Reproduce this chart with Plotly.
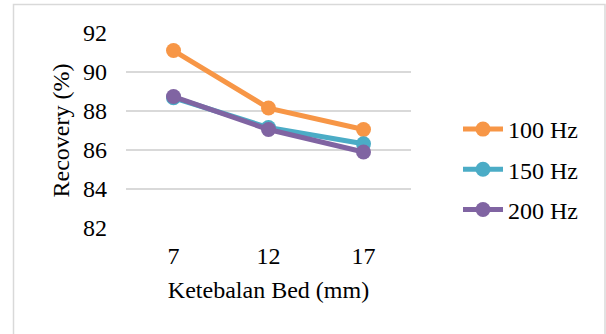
import plotly.graph_objects as go

categories = ["7", "12", "17"]
hz100 = [91.1, 88.15, 87.05]
hz150 = [88.68, 87.15, 86.32]
hz200 = [88.74, 87.05, 85.9]
series_names = ["100 Hz", "150 Hz", "200 Hz"]
colors = ["#F79646", "#4BACC6", "#8064A2"]
y_ticks = [82, 84, 86, 88, 90, 92]

W, H = 606, 334
L, R, T, B = 126, 195, 33, 106
pw, ph = W - L - R, H - T - B

fig = go.Figure()
for i, (name, vals) in enumerate(zip(series_names, [hz100, hz150, hz200])):
    fig.add_trace(go.Scatter(
        x=categories, y=vals, name=name, mode="lines+markers",
        line=dict(color=colors[i], width=5),
        marker=dict(color=colors[i], size=15),
        legendgroup=name,
    ))

font = "Liberation Serif, Times New Roman, serif"
fig.update_layout(
    width=W, height=H,
    margin=dict(l=L, r=R, t=T, b=B),
    paper_bgcolor="white", plot_bgcolor="white",
    font=dict(family=font, size=24, color="black"),
    showlegend=True,
    legend=dict(x=(458 - L) / pw, xanchor="left", y=1 - (107 - T) / ph, yanchor="top",
                traceorder="grouped", tracegroupgap=6,
                font=dict(family=font, size=24, color="black"),
                itemwidth=40, bgcolor="rgba(0,0,0,0)"),
    xaxis=dict(type="category", range=[-0.5, 2.5], showgrid=False, showline=False,
               zeroline=False, ticks="", ticklabelstandoff=11,
               title=dict(text="Ketebalan Bed (mm)", standoff=13, font=dict(size=24))),
    yaxis=dict(range=[82, 92], tickvals=y_ticks, showgrid=True, gridcolor="#d9d9d9",
               gridwidth=1.5, showline=False, zeroline=False, ticks="", ticklabelstandoff=18,
               title=dict(text="Recovery (%)", standoff=6, font=dict(size=24))),
    shapes=[dict(type="rect", xref="paper", yref="paper",
                 x0=(13.5 - L) / pw, x1=(605 - L) / pw,
                 y0=1 - (345 - T) / ph, y1=1 + (T - 4.5) / ph,
                 line=dict(color="#d9d9d9", width=1.5), layer="below")],
)

fig.write_html("out.html", config={"displayModeBar": False},
               post_script="document.body.style.margin='0';")
